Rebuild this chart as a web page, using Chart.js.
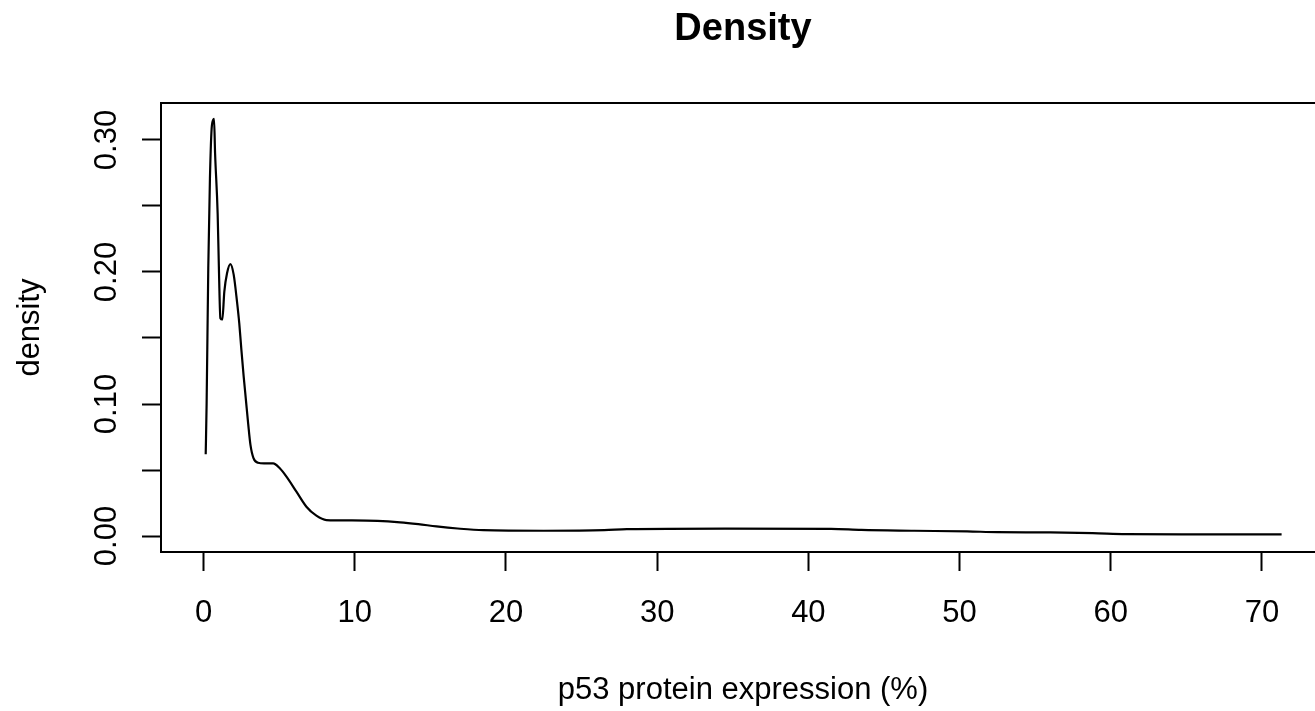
<!DOCTYPE html>
<html>

<head>
    <meta charset="utf-8">
    <script src="https://cdn.jsdelivr.net/npm/chart.js@4.4.1/dist/chart.umd.min.js"></script>
    <style>
        html, body { margin: 0; padding: 0; background: #fff; overflow: hidden; }
    </style>
</head>

<body>
    <canvas id="density" width="1326" height="711"></canvas>

    <script>
        // p53 expression (%) and kernel density estimate
        const expression = [0.14, 0.2, 0.31, 0.42, 0.55, 0.69, 0.76, 0.93, 1.02, 1.11, 1.24, 1.37, 1.55, 1.77, 1.99,
            2.21, 2.36, 2.5, 2.65, 2.8, 2.95, 3.1, 3.3, 3.6, 4.0, 4.6, 5.04, 5.48, 6.14, 6.8, 7.46, 8.12, 9.7, 11.5,
            13.0, 14.2, 15.4, 16.8, 18.5, 22.5, 26.5, 28, 34.5, 41.5, 43.5, 47, 50.5, 52.5, 56, 58.8, 61, 65, 71.3]
        const density = [0.062, 0.10, 0.203, 0.271, 0.311, 0.316, 0.29, 0.244, 0.199, 0.165, 0.164, 0.185, 0.199, 0.206, 0.198,
            0.1775, 0.161, 0.141, 0.121, 0.103, 0.085, 0.069, 0.059, 0.0555, 0.055, 0.055, 0.0513, 0.045, 0.0336, 0.0222, 0.0154, 0.0121, 0.0118, 0.0115,
            0.0104, 0.0090, 0.0073, 0.0057, 0.0044, 0.0040, 0.0044, 0.0052, 0.0056, 0.0054, 0.0046, 0.0040, 0.0035, 0.0029, 0.0027, 0.0022, 0.0015, 0.0013, 0.0012]

        const xTicks = [0, 10, 20, 30, 40, 50, 60, 70]
        const yTicks = [0, 0.05, 0.10, 0.15, 0.20, 0.25, 0.30]
        const yLabelled = [0, 0.10, 0.20, 0.30]

        const points = expression.map((x, i) => ({ x: x, y: density[i] }))

        const font = "'Liberation Sans', Arial, sans-serif"

        // R style frame around the plot region
        const boxPlugin = {
            id: 'box',
            afterDatasetsDraw(chart) {
                const { ctx, chartArea: a } = chart
                ctx.save()
                ctx.strokeStyle = '#000'
                ctx.lineWidth = 2
                ctx.strokeRect(a.left, a.top, a.right - a.left, a.bottom - a.top)
                ctx.restore()
            }
        }

        new Chart(document.getElementById('density'), {
            type: 'scatter',
            data: {
                datasets: [{
                    data: points,
                    showLine: true,
                    borderColor: '#000',
                    borderWidth: 2.2,
                    pointRadius: 0,
                    cubicInterpolationMode: 'monotone',
                    clip: false
                }]
            },
            options: {
                responsive: false,
                animation: false,
                layout: { padding: { left: 0, right: 1, top: 0, bottom: 0 } },
                plugins: {
                    legend: { display: false },
                    tooltip: { enabled: false },
                    title: {
                        display: true,
                        fullSize: false,
                        text: 'Density',
                        color: '#000',
                        font: { family: font, size: 38, weight: 'bold', lineHeight: 1.2 },
                        padding: { top: 7, bottom: 50.4 }
                    }
                },
                scales: {
                    x: {
                        type: 'linear',
                        min: -2.817,
                        max: 74.17,
                        afterBuildTicks: s => { s.ticks = xTicks.map(v => ({ value: v })) },
                        afterFit: s => { s.height = 159 },
                        border: { display: false },
                        grid: { drawOnChartArea: false, drawTicks: true, tickLength: 19, tickColor: '#000', tickWidth: 2 },
                        ticks: {
                            autoSkip: false,
                            maxRotation: 0,
                            color: '#000',
                            padding: 24,
                            font: { family: font, size: 31 },
                            callback: v => String(v)
                        },
                        title: {
                            display: true,
                            text: 'p53 protein expression (%)',
                            color: '#000',
                            font: { family: font, size: 31 },
                            padding: { top: 0, bottom: 2 }
                        }
                    },
                    y: {
                        type: 'linear',
                        min: -0.0121,
                        max: 0.328,
                        afterBuildTicks: s => { s.ticks = yTicks.map(v => ({ value: v })) },
                        afterFit: s => { s.width = 161 },
                        border: { display: false },
                        grid: { drawOnChartArea: false, drawTicks: true, tickLength: 19, tickColor: '#000', tickWidth: 2 },
                        ticks: {
                            autoSkip: false,
                            minRotation: 90,
                            maxRotation: 90,
                            crossAlign: 'center',
                            color: '#000',
                            padding: 4,
                            font: { family: font, size: 31 },
                            callback: v => yLabelled.some(t => Math.abs(t - v) < 1e-9) ? v.toFixed(2) : ''
                        },
                        title: {
                            display: true,
                            text: 'density',
                            color: '#000',
                            font: { family: font, size: 31 },
                            padding: { top: 12, bottom: 0 }
                        }
                    }
                }
            },
            plugins: [boxPlugin]
        })
    </script>

</body>

</html>
